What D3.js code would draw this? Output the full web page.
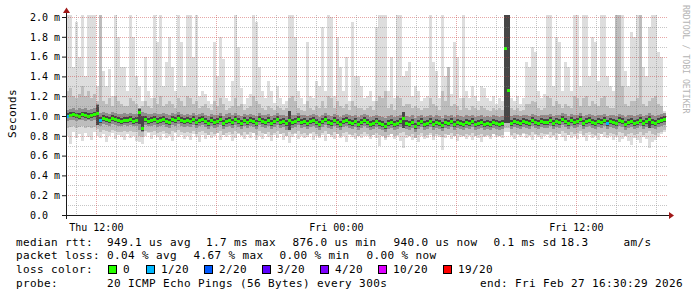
<!DOCTYPE html>
<html>
<head>
<meta charset="utf-8">
<title>smokeping</title>
<script src="https://d3js.org/d3.v7.min.js"></script>
<style>
  html, body { margin: 0; padding: 0; background: #fff; }
  svg { display: block; }
  .mono { font-family: "DejaVu Sans Mono", "Liberation Mono", monospace; }
  .pre { white-space: pre; }
</style>
</head>
<body>
<div id="chart"></div>
<script>
// one sample every 9 minutes, values in 0.01 ms (10 us)
const medRtt = [
  100,101,102,101,100,102,101,100,101,102,103,96,98,97,96,98,97,96,95,96,
  96,97,95,96,104,88,97,95,96,97,95,96,97,95,94,97,96,98,96,95,
  96,95,97,94,96,97,95,93,96,94,95,97,93,95,96,94,97,95,93,96,
  94,96,95,93,97,95,94,96,93,95,97,94,95,93,96,94,95,97,94,95,
  93,95,96,94,92,95,97,94,93,96,94,92,95,96,94,93,95,92,94,96,
  94,92,93,95,93,92,90,93,94,92,93,95,98,93,92,94,90,93,95,92,
  93,95,92,94,93,91,94,93,95,92,94,93,92,94,93,95,92,93,94,92,
  93,92,94,93,92,93,169,126,93,95,94,93,95,94,93,96,94,93,95,94,
  94,96,93,95,94,97,95,93,96,94,95,97,93,95,96,94,93,95,94,96,
  93,95,94,93,96,95,92,94,95,93,94,96,93,95,97,94,93,95,96,97
];
const smokeMax = [
  205,205,150,195,160,205,140,205,205,205,130,205,145,130,147,120,205,180,150,150,
  125,205,180,140,130,115,160,125,118,205,175,205,130,155,180,150,125,205,175,130,
  205,205,160,205,120,125,122,115,112,175,140,180,158,118,115,135,205,170,128,112,
  118,122,205,195,150,125,118,135,125,113,130,118,112,115,205,205,180,125,118,112,
  175,120,118,135,130,190,125,205,200,120,180,150,125,160,115,195,140,140,130,118,
  120,125,115,190,205,205,205,125,160,118,205,205,140,145,155,120,130,125,115,118,
  120,205,155,145,118,205,140,120,122,175,160,118,205,125,118,130,120,115,130,128,
  118,115,120,112,118,115,205,205,118,115,120,112,118,155,150,170,165,125,118,122,
  205,205,130,180,175,125,155,150,125,205,205,130,205,205,140,180,175,135,205,205,
  140,130,125,205,205,205,145,130,185,180,205,205,150,140,190,205,205,165,160,105
];
const smokeHi2 = [
  125,128,120,118,122,130,120,125,118,122,115,205,115,112,118,110,120,115,112,110,
  110,118,115,112,108,110,115,110,108,118,112,120,110,112,115,112,108,118,115,110,
  120,118,112,115,108,110,112,108,106,115,110,118,112,106,108,110,118,110,112,106,
  108,110,120,115,112,108,106,110,108,106,110,108,106,108,118,120,115,108,106,105,
  115,108,106,110,108,115,108,120,118,108,115,110,108,112,106,115,110,108,108,106,
  108,110,106,115,120,118,125,108,112,106,120,118,110,112,112,108,110,108,106,108,
  108,118,112,110,106,125,115,150,110,112,110,106,118,108,106,110,108,106,110,108,
  106,105,108,106,108,106,205,205,108,106,108,105,106,112,112,115,114,108,106,108,
  120,118,110,115,112,108,112,110,108,120,118,110,118,120,110,115,112,110,118,120,
  110,108,108,205,205,130,112,110,115,115,118,205,112,110,115,118,120,112,110,102
];
const smokeHi1 = [
  106,107,108,106,108,107,108,106,107,108,112,103,104,103,102,104,103,102,102,103,
  102,103,102,102,108,104,103,102,102,103,102,102,103,102,101,103,102,104,102,101,
  102,101,103,101,102,103,101,100,102,101,101,103,100,102,103,101,103,101,100,102,
  101,102,101,100,103,101,101,102,100,101,103,101,101,100,102,101,101,103,101,101,
  100,101,102,101,99,101,103,101,100,102,101,99,101,102,101,100,101,99,101,102,
  101,99,100,101,100,99,98,100,101,99,100,101,104,100,99,101,98,100,101,99,
  100,101,99,101,100,98,101,100,101,99,101,100,99,101,100,101,99,100,101,99,
  100,99,101,100,99,100,205,205,100,101,101,100,101,101,100,102,101,100,101,101,
  101,102,100,101,101,103,102,100,102,101,101,103,100,101,102,101,100,101,101,102,
  100,101,101,100,102,101,99,101,101,100,101,102,100,101,103,101,100,101,102,103
];
const smokeCoreHi = [
  103,104,104,103,103,104,104,103,103,104,111,99,101,100,99,101,100,99,98,99,
  99,100,98,99,107,100,100,98,99,100,98,99,100,98,97,100,99,101,99,98,
  99,98,100,97,99,100,98,96,99,97,98,100,96,98,99,97,100,98,96,99,
  97,99,98,96,100,98,97,99,96,98,100,97,98,96,105,97,98,100,97,98,
  96,98,99,97,95,98,100,97,96,99,97,95,98,99,97,96,98,95,97,99,
  97,95,96,98,96,95,93,96,97,95,96,98,104,96,95,97,93,96,98,95,
  96,98,95,97,96,94,97,96,98,95,97,96,95,97,96,98,95,96,97,95,
  96,95,97,96,95,96,205,205,96,98,97,96,98,97,96,99,97,96,98,97,
  97,99,96,98,97,100,98,96,99,97,98,100,96,98,99,97,96,98,97,99,
  96,98,97,96,99,98,95,97,98,96,97,99,96,98,100,97,96,98,99,100
];
const smokeCoreLo = [
  98,99,99,98,97,99,98,97,98,99,91,93,95,94,93,95,94,93,92,93,
  93,94,92,93,92,85,94,92,93,94,92,93,94,92,91,94,93,95,93,92,
  93,92,94,91,93,94,92,90,93,91,92,94,90,92,93,91,94,92,90,93,
  91,93,92,90,94,92,91,93,90,92,94,91,92,90,86,91,92,94,91,92,
  90,92,93,91,89,92,94,91,90,93,91,89,92,93,91,90,92,89,91,93,
  91,89,90,92,90,89,87,90,91,89,90,92,88,90,89,91,87,90,92,89,
  90,92,89,91,90,88,91,90,92,89,91,90,89,91,90,92,89,90,91,89,
  90,89,91,90,89,90,93,93,90,92,91,90,92,91,90,93,91,90,92,91,
  91,93,90,92,91,94,92,90,93,91,92,94,90,92,93,91,90,92,91,93,
  90,92,91,90,93,92,89,91,92,90,91,93,90,92,88,91,90,92,93,94
];
const smokeLo1 = [
  95,96,96,95,96,96,95,96,95,96,94,90,92,91,90,92,91,90,90,91,
  90,91,90,90,86,84,91,90,90,91,89,90,91,89,88,91,90,92,90,89,
  90,89,91,88,90,91,89,87,90,88,89,91,87,89,90,88,91,89,87,90,
  88,90,89,87,91,89,88,90,87,89,91,88,89,86,90,88,89,91,88,89,
  87,89,90,88,86,89,91,88,87,90,88,86,89,90,88,87,89,86,88,90,
  88,86,87,89,87,86,84,87,88,86,87,89,90,87,86,88,84,87,89,86,
  87,89,86,88,87,85,88,87,89,86,88,87,86,88,87,89,86,87,88,86,
  87,86,88,87,86,87,95,95,87,89,88,87,89,88,87,90,88,87,89,88,
  88,90,87,89,88,91,89,87,90,88,89,91,87,89,90,88,87,89,88,90,
  87,89,88,87,90,89,86,88,89,87,88,90,87,89,91,88,87,89,90,91
];
const smokeLo2 = [
  88,89,90,88,89,90,88,89,88,89,87,84,86,85,84,86,85,84,84,85,
  84,85,84,84,80,79,85,84,84,85,83,84,85,83,82,85,84,86,84,83,
  84,83,85,82,84,85,83,81,84,82,83,85,81,83,84,82,85,83,81,84,
  82,84,83,81,85,83,82,84,81,83,85,82,83,80,84,82,83,85,82,83,
  81,83,84,82,80,83,85,82,81,84,82,80,83,84,82,81,83,80,82,84,
  82,80,81,83,81,80,78,81,82,80,81,83,84,81,80,82,78,81,83,80,
  81,83,80,82,81,79,82,81,83,80,82,81,80,82,81,83,80,81,82,80,
  81,80,82,81,80,81,88,88,81,83,82,81,83,82,81,84,82,81,83,82,
  82,84,81,83,82,85,83,81,84,82,83,85,81,83,84,82,81,83,82,84,
  81,83,82,81,84,83,80,82,83,81,82,84,81,83,85,82,81,83,84,86
];
const smokeMin = [
  80,72,84,78,82,75,83,79,76,84,80,78,82,74,80,83,77,81,79,76,
  82,78,80,75,74,72,80,83,77,81,79,76,82,78,80,75,83,79,81,77,
  80,76,82,79,74,81,77,83,78,80,84,76,82,79,81,75,78,82,80,77,
  81,78,83,76,80,77,82,79,75,81,78,83,76,80,73,79,82,77,80,78,
  79,82,76,80,78,81,75,83,79,77,82,78,80,74,81,79,77,82,78,80,
  80,77,82,78,70,81,76,79,82,77,80,75,68,78,81,76,79,74,80,77,
  78,81,76,80,79,66,78,82,77,80,75,79,82,77,80,76,81,78,74,79,
  80,77,82,79,81,78,84,84,80,77,81,79,82,78,80,76,81,79,77,80,
  81,78,80,76,82,79,75,81,78,80,77,82,79,75,81,78,80,76,82,79,
  78,80,76,79,74,77,80,75,71,78,76,73,79,77,68,74,76,79,82,84
];
// samples with lost pings: [sample index, pings lost of 20]
const lossSamples = [[0, 1], [11, 1], [180, 1]];

const lossLevels = [0, 1, 2, 3, 4, 10, 19];
const lossLabels = ["0", "1/20", "2/20", "3/20", "4/20", "10/20", "19/20"];
const lossColors = ["#26ff00", "#00b8ff", "#0059ff", "#5e00ff", "#7e00ff", "#dd00ff", "#ff0000"];

const yTicks = [0, 0.2, 0.4, 0.6, 0.8, 1.0, 1.2, 1.4, 1.6, 1.8, 2.0];
const rttLegend = ["median rtt:  949.1 us avg", "1.7 ms max", "876.0 us min", "940.0 us now", "0.1 ms sd", "18.3", "am/s"];
const lossLegend = ["packet loss: 0.04 % avg", "4.67 % max", "0.00 % min", "0.00 % now"];
const probeText = "probe:       20 ICMP Echo Pings (56 Bytes) every 300s";
const endText = "end: Fri Feb 27 16:30:29 2026";

const start = new Date(2026, 1, 26, 10, 30, 29);
const end = new Date(2026, 1, 27, 16, 30, 29);
const stepMs = 540 * 1000;
const times = medRtt.map((d, i) => new Date(+start + i * stepMs));

const W = 697, H = 297;
const pLeft = 66, pRight = 666, pTop = 15, pBottom = 215;

const svg = d3.select("#chart").append("svg")
  .attr("width", W).attr("height", H)
  .attr("class", "mono");

svg.append("rect").attr("width", W).attr("height", H).attr("fill", "#fff");

const x = d3.scaleTime().domain([start, end]).range([pLeft, pRight]);
const y = d3.scaleLinear().domain([0, 200 / 99]).range([pBottom, pTop]);

svg.append("clipPath").attr("id", "plot")
  .append("rect").attr("x", pLeft).attr("y", pTop).attr("width", pRight - pLeft).attr("height", pBottom - pTop);

const plot = svg.append("g").attr("clip-path", "url(#plot)").attr("shape-rendering", "crispEdges");

// smoke bands, outermost first
const bands = [
  { lo: smokeMin, hi: smokeMax, color: "#dddddd" },
  { lo: smokeLo2, hi: smokeHi2, color: "#bdbdbd" },
  { lo: smokeLo1, hi: smokeHi1, color: "#8e8e8e" },
  { lo: smokeCoreLo, hi: smokeCoreHi, color: "#474747" }
];
const xEnd = i => x(new Date(+times[i] + stepMs));

bands.forEach(b => {
  plot.append("g").selectAll("rect")
    .data(times)
    .enter().append("rect")
    .attr("x", d => x(d))
    .attr("width", (d, i) => xEnd(i) - x(d))
    .attr("y", (d, i) => y(b.hi[i] / 100))
    .attr("height", (d, i) => y(b.lo[i] / 100) - y(b.hi[i] / 100))
    .attr("fill", b.color);
});

// grid
const grid = svg.append("g").attr("shape-rendering", "crispEdges");
const minorY = d3.range(1, 20).filter(k => k % 2 === 1).map(k => k / 10);
grid.selectAll(".gy").data(minorY).enter().append("line")
  .attr("x1", pLeft).attr("x2", pRight + 1)
  .attr("y1", d => Math.round(y(d)) + 0.5).attr("y2", d => Math.round(y(d)) + 0.5)
  .attr("stroke", "rgba(128,128,128,0.45)").attr("stroke-dasharray", "1,1");
grid.selectAll(".my").data(yTicks.slice(1)).enter().append("line")
  .attr("x1", pLeft).attr("x2", pRight + 1)
  .attr("y1", d => Math.round(y(d)) + 0.5).attr("y2", d => Math.round(y(d)) + 0.5)
  .attr("stroke", "rgba(200,60,60,0.45)").attr("stroke-dasharray", "1,1");

const hours = d3.timeHour.range(start, end);
grid.selectAll(".gx").data(hours.filter(h => h.getHours() % 6 !== 0)).enter().append("line")
  .attr("x1", d => Math.round(x(d)) + 0.5).attr("x2", d => Math.round(x(d)) + 0.5)
  .attr("y1", pTop).attr("y2", pBottom)
  .attr("stroke", "rgba(128,128,128,0.45)").attr("stroke-dasharray", "1,1");
grid.selectAll(".mx").data(hours.filter(h => h.getHours() % 6 === 0)).enter().append("line")
  .attr("x1", d => Math.round(x(d)) + 0.5).attr("x2", d => Math.round(x(d)) + 0.5)
  .attr("y1", pTop).attr("y2", pBottom)
  .attr("stroke", "rgba(200,60,60,0.45)").attr("stroke-dasharray", "1,1");

// median markers coloured by loss
const lossOf = i => {
  const hit = lossSamples.find(p => p[0] === i);
  return hit ? hit[1] : 0;
};
const lossColor = n => {
  let c = lossColors[0];
  lossLevels.forEach((lv, k) => { if (n >= lv) c = lossColors[k]; });
  return c;
};
plot.append("g").selectAll("rect")
  .data(times)
  .enter().append("rect")
  .attr("x", d => x(d))
  .attr("width", (d, i) => xEnd(i) - x(d))
  .attr("y", (d, i) => Math.round(y(medRtt[i] / 100)) - 1)
  .attr("height", 3)
  .attr("fill", (d, i) => lossColor(lossOf(i)));

// axes
const axisColor = "#1a1a1a";
const yAxis = svg.append("g")
  .attr("transform", `translate(${pLeft},0)`)
  .call(d3.axisLeft(y).tickValues(yTicks).tickSize(4).tickPadding(6)
    .tickFormat(d => d === 0 ? "0.0" : d.toFixed(1) + " m"));
yAxis.select(".domain").remove();
yAxis.selectAll(".tick line").attr("stroke", axisColor);
yAxis.selectAll(".tick text")
  .attr("x", -36).attr("text-anchor", "start")
  .style("font-family", "DejaVu Sans Mono").style("font-size", "10px").attr("fill", "#000");

const xAxis = svg.append("g")
  .attr("transform", `translate(0,${pBottom})`)
  .call(d3.axisBottom(x).tickValues(hours.filter(h => h.getHours() % 12 === 0))
    .tickSize(0).tickPadding(9).tickFormat(d3.timeFormat("%a %H:%M")));
xAxis.select(".domain").remove();
xAxis.selectAll(".tick text")
  .style("font-family", "DejaVu Sans Mono").style("font-size", "10px").attr("fill", "#000");

svg.append("line").attr("x1", 62).attr("x2", 670).attr("y1", pBottom + 0.5).attr("y2", pBottom + 0.5)
  .attr("stroke", axisColor).attr("shape-rendering", "crispEdges");
svg.append("line").attr("x1", pLeft + 0.5).attr("x2", pLeft + 0.5).attr("y1", 219).attr("y2", 11)
  .attr("stroke", axisColor).attr("shape-rendering", "crispEdges");
svg.append("path").attr("d", "M669,212L674,215.5L669,219Z").attr("fill", "#a01818");
svg.append("path").attr("d", "M63,13L66.5,7.5L70,13Z").attr("fill", "#a01818");

// axis titles
svg.append("text")
  .attr("transform", "translate(16,113.5) rotate(-90)")
  .attr("text-anchor", "middle")
  .style("font-size", "11px").style("letter-spacing", "0.38px")
  .text("Seconds");
svg.append("text")
  .attr("transform", "translate(683,5) rotate(90)")
  .style("font-size", "8.2px").attr("fill", "#b4b4b4")
  .text("RRDTOOL / TOBI OETIKER");

// legend
const legend = svg.append("g").style("font-size", "11px").style("letter-spacing", "0.38px").attr("fill", "#000");
const addText = (t, px, py) => legend.append("text").attr("class", "pre")
  .attr("xml:space", "preserve").attr("x", px).attr("y", py).text(t);
const rttX = [16, 206, 292.5, 393.5, 493.5, 560.5, 623.5];
rttLegend.forEach((t, i) => addText(t, rttX[i], 245.7));
const lossX = [16, 193.5, 279.5, 366.5];
lossLegend.forEach((t, i) => addText(t, lossX[i], 259.4));
addText("loss color:", 16, 273);
const boxX = [108, 146, 204, 262, 320, 378, 443];
lossLabels.forEach((t, i) => {
  legend.append("rect").attr("x", boxX[i] + 0.5).attr("y", 265.5).attr("width", 8).attr("height", 8)
    .attr("fill", lossColors[i]).attr("stroke", "#000").attr("shape-rendering", "crispEdges");
  addText(t, boxX[i] + 15, 273);
});
addText(probeText, 16, 286.7);
addText(endText, 683, 286.7).attr("text-anchor", "end");
</script>
</body>
</html>
